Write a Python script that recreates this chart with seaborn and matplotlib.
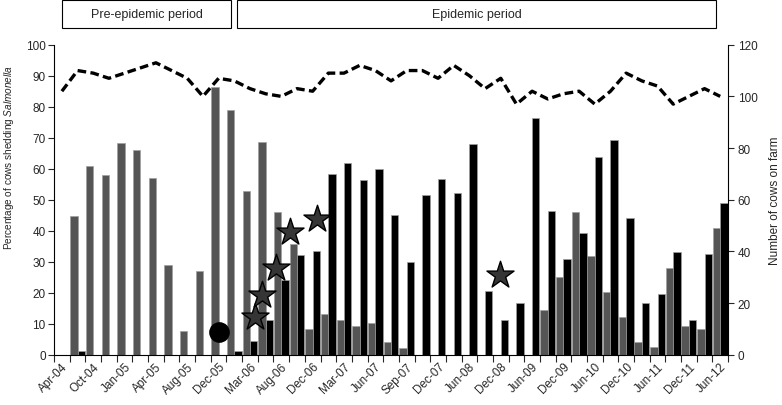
"""
Salmonella shedding on one dairy farm, Apr-04 to Jun-12.

Paired bars (gray/black) per sampling visit on the left axis, number of
cows on the farm as a dashed line on the right axis, and the event
markers (stars, circle) on top.
"""

import matplotlib
matplotlib.use("Agg")
import matplotlib.pyplot as plt
import matplotlib.transforms as mtransforms
from matplotlib.patches import Rectangle
import pandas as pd
import seaborn as sns

# one label for every second sampling visit (43 visits in total)
tick_labels = ["Apr-04", "Oct-04", "Jan-05", "Apr-05", "Aug-05", "Dec-05",
               "Mar-06", "Aug-06", "Dec-06", "Mar-07", "Jun-07", "Sep-07",
               "Dec-07", "Jun-08", "Dec-08", "Jun-09", "Dec-09", "Jun-10",
               "Dec-10", "Jun-11", "Dec-11", "Jun-12"]

# % of cows shedding, per visit
shed_gray = [0, 44.8, 60.9, 57.9, 68.2, 65.9, 57.0, 29.0, 7.7, 27.1,
             86.5, 78.9, 52.7, 68.7, 45.9, 35.8, 8.3, 13.0, 11.3, 9.2,
             10.2, 4.0, 2.1, 0, 0, 0, 0, 0, 0, 0,
             0, 14.5, 25.0, 46.0, 31.9, 20.1, 12.3, 4.1, 2.4, 28.0,
             9.4, 8.3, 41.0]
shed_black = [0, 1.3, 0, 0, 0, 0, 0, 0, 0, 0,
              0, 1.3, 4.3, 11.3, 24.1, 32.3, 33.3, 58.4, 61.7, 56.5,
              59.8, 45.2, 30.0, 51.6, 56.7, 52.3, 68.0, 20.6, 11.3, 16.8,
              76.3, 46.4, 30.9, 39.4, 63.8, 69.2, 44.1, 16.6, 19.6, 33.2,
              11.3, 32.5, 48.9]

# herd size at each visit (right axis)
cows_on_farm = [102, 110, 109, 107, 109, 111, 113, 110, 107, 100,
                107, 106, 103, 101, 100, 103, 102, 109, 109, 112,
                110, 106, 110, 110, 107, 112, 108, 103, 107, 97,
                102, 99, 101, 102, 97, 102, 109, 106, 104, 97,
                100, 103, 100]

# event markers (visit position, % axis)
star_visit = [12.33, 12.75, 13.65, 14.56, 16.3, 27.96]
star_pct = [12.1, 19.2, 28.1, 39.5, 43.8, 25.8]
circle_visit = [10]
circle_pct = [7.4]

# banners above the plot, in visit units
periods = ["Pre-epidemic period", "Epidemic period"]
period_start = [0.0, 11.2]
period_end = [10.8, 41.75]

FONT = ["Liberation Sans", "DejaVu Sans"]


def main():
    sns.set_style("ticks")
    plt.rcParams["font.family"] = FONT
    plt.rcParams["font.size"] = 8.5
    plt.rcParams["mathtext.fontset"] = "custom"
    plt.rcParams["mathtext.rm"] = "Liberation Sans"
    plt.rcParams["mathtext.it"] = "Liberation Sans:italic"

    n = len(shed_gray)
    visits = list(range(n))
    df = pd.DataFrame({
        "visit": visits * 2,
        "pct": shed_gray + shed_black,
        "group": ["gray"] * n + ["black"] * n,
    })

    fig = plt.figure(figsize=(7.82, 4.06), dpi=100)
    ax = fig.add_axes([0.0691, 0.1239, 0.8619, 0.7635])

    sns.barplot(data=df, x="visit", y="pct", hue="group",
                hue_order=["gray", "black"],
                palette={"gray": "#555555", "black": "#000000"},
                width=0.94, errorbar=None, legend=False,
                edgecolor="#a0a0a0", linewidth=0.5, ax=ax)

    sns.scatterplot(x=star_visit, y=star_pct, marker="*", s=420,
                    color="#353535", edgecolor="black", linewidth=1,
                    zorder=4, ax=ax)
    sns.scatterplot(x=circle_visit, y=circle_pct, marker="o", s=190,
                    color="black", edgecolor="black", zorder=4, ax=ax)

    ax.set_xlim(-0.5, n - 0.5)
    ax.set_ylim(0, 100)
    ax.set_yticks(range(0, 101, 10))
    ax.set_xticks(range(0, n, 2))
    ax.set_xticklabels(tick_labels, rotation=45, ha="right",
                       rotation_mode="anchor")
    ax.set_xticks([i - 0.5 for i in range(n + 1)], minor=True)
    ax.tick_params(axis="x", which="major", length=0, pad=4)
    ax.tick_params(axis="x", which="minor", length=5, width=0.8)
    ax.tick_params(axis="y", length=4, width=0.8, pad=2)
    ax.set_xlabel("")
    ax.set_ylabel("Percentage of cows shedding $\\it{Salmonella}$",
                  fontsize=7.2)
    ax.yaxis.set_label_coords(-0.056, 0.64)
    ax.spines["top"].set_visible(False)
    ax.spines["right"].set_visible(False)
    for s in ("left", "bottom"):
        ax.spines[s].set_color("black")
        ax.spines[s].set_linewidth(0.8)

    ax2 = ax.twinx()
    sns.lineplot(x=visits, y=cows_on_farm, color="black", linewidth=2.4,
                 ax=ax2)
    ax2.lines[0].set_dashes([2.6, 1.3])
    ax2.set_ylim(0, 120)
    ax2.set_yticks(range(0, 121, 20))
    ax2.tick_params(axis="y", length=4, width=0.8, pad=3)
    ax2.set_ylabel("Number of cows on farm", labelpad=8)
    ax2.spines["top"].set_visible(False)
    ax2.spines["left"].set_visible(False)
    ax2.spines["bottom"].set_visible(False)
    ax2.spines["right"].set_color("black")
    ax2.spines["right"].set_linewidth(0.8)

    # period banners
    trans = mtransforms.blended_transform_factory(ax.transData, ax.transAxes)
    for name, x0, x1 in zip(periods, period_start, period_end):
        ax.add_patch(Rectangle((x0, 1.054), x1 - x0, 0.09, transform=trans,
                               facecolor="white", edgecolor="black",
                               linewidth=0.8, clip_on=False))
        ax.text((x0 + x1) / 2, 1.099, name, transform=trans,
                ha="center", va="center", fontsize=9)

    fig.savefig("out.png", dpi=100)


if __name__ == "__main__":
    main()
